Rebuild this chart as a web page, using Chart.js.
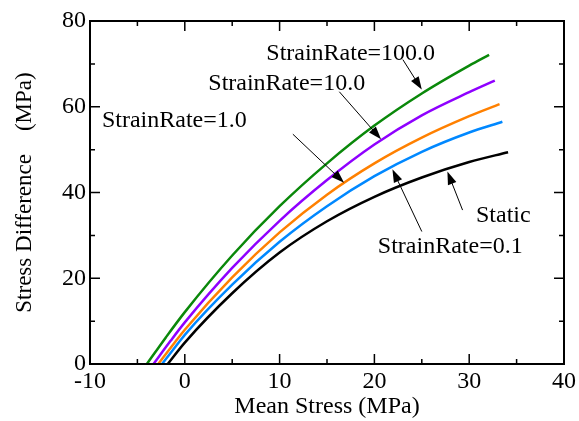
<!DOCTYPE html>
<html>
<head>
<meta charset="utf-8">
<script src="https://cdn.jsdelivr.net/npm/chart.js@4.4.1/dist/chart.umd.min.js"></script>
<style>
  html, body { margin: 0; padding: 0; background: #fff; }
  #wrap { width: 579px; height: 421px; }
</style>
</head>
<body>
<div id="wrap"><canvas id="chart"></canvas></div>
<script>
// curve values (mean stress, stress difference)
const rate100X = [-4.0, -2.0, 0, 5, 10, 15, 20, 25, 30, 32.1];
const rate100Y = [0, 6.2, 12.1, 25.3, 36.8, 46.8, 55.6, 63.1, 69.6, 72.1];

const rate10X = [-3.3, -1.5, 0, 5, 10, 15, 20, 25, 30, 32.7];
const rate10Y = [0, 5.4, 9.7, 22.4, 33.4, 42.9, 51.2, 58.0, 63.4, 66.1];

const rate1X = [-2.8, -1.0, 0, 5, 10, 15, 20, 25, 30, 33.2];
const rate1Y = [0, 5.2, 8.0, 20.2, 30.7, 39.5, 46.8, 52.8, 57.8, 60.6];

const rate01X = [-2.4, -0.5, 0, 5, 10, 15, 20, 25, 30, 33.5];
const rate01Y = [0, 5.4, 6.8, 18.5, 28.5, 36.8, 43.8, 49.5, 54.0, 56.5];

const staticX = [-1.8, 0, 5, 10, 15, 20, 25, 30, 34.1];
const staticY = [0, 5.0, 16.5, 26.0, 33.3, 39.0, 43.5, 47.1, 49.4];

const xTickValues = [-10, 0, 10, 20, 30, 40];
const xMinorValues = [-5, 5, 15, 25, 35];
const yTickValues = [0, 20, 40, 60, 80];
const yMinorValues = [10, 30, 50, 70];

// label text and where the arrows point (data units)
const notes = [
    { text: 'StrainRate=100.0', x: 17.5, y: 72.3, from: [23.0, 71.0], to: [25.0, 64.0] },
    { text: 'StrainRate=10.0', x: 10.75, y: 65.3, from: [16.3, 63.5], to: [20.7, 52.4] },
    { text: 'StrainRate=1.0', x: -1.1, y: 56.8, from: [11.4, 53.6], to: [16.8, 42.3] },
    { text: 'Static', x: 33.6, y: 34.6, from: [29.3, 35.9], to: [27.7, 44.9] },
    { text: 'StrainRate=0.1', x: 28.0, y: 27.4, from: [25.0, 30.9], to: [21.9, 45.4] }
];

const FONT = 'Liberation Serif';

function toPoints(xs, ys) {
    return xs.map((v, i) => ({ x: v, y: ys[i] }));
}

function curve(label, xs, ys, color) {
    return {
        label: label,
        data: toPoints(xs, ys),
        borderColor: color,
        borderWidth: 2.5,
        pointRadius: 0,
        fill: false,
        cubicInterpolationMode: 'monotone'
    };
}

function arrow(ctx, x1, y1, x2, y2) {
    const ang = Math.atan2(y2 - y1, x2 - x1);
    const len = 13, half = 4.5;
    ctx.beginPath();
    ctx.moveTo(x1, y1);
    ctx.lineTo(x2 - Math.cos(ang) * len * 0.8, y2 - Math.sin(ang) * len * 0.8);
    ctx.stroke();
    ctx.beginPath();
    ctx.moveTo(x2, y2);
    ctx.lineTo(x2 - Math.cos(ang) * len - Math.sin(ang) * half, y2 - Math.sin(ang) * len + Math.cos(ang) * half);
    ctx.lineTo(x2 - Math.cos(ang) * len + Math.sin(ang) * half, y2 - Math.sin(ang) * len - Math.cos(ang) * half);
    ctx.closePath();
    ctx.fill();
}

// frame, inward ticks on all four sides, and the labelled arrows
const framePlugin = {
    id: 'framePlugin',
    afterDatasetsDraw(chart) {
        const { ctx, chartArea: a, scales } = chart;
        const sx = scales.x, sy = scales.y;
        ctx.save();
        ctx.strokeStyle = '#000';
        ctx.fillStyle = '#000';

        ctx.lineWidth = 1.5;
        const tickX = (vals, len) => vals.forEach(v => {
            const px = sx.getPixelForValue(v);
            ctx.beginPath();
            ctx.moveTo(px, a.bottom); ctx.lineTo(px, a.bottom - len);
            ctx.moveTo(px, a.top); ctx.lineTo(px, a.top + len);
            ctx.stroke();
        });
        const tickY = (vals, len) => vals.forEach(v => {
            const py = sy.getPixelForValue(v);
            ctx.beginPath();
            ctx.moveTo(a.left, py); ctx.lineTo(a.left + len, py);
            ctx.moveTo(a.right, py); ctx.lineTo(a.right - len, py);
            ctx.stroke();
        });
        tickX(xTickValues, 10);
        tickX(xMinorValues, 5);
        tickY(yTickValues, 10);
        tickY(yMinorValues, 5);

        ctx.lineWidth = 2;
        ctx.strokeRect(a.left, a.top, a.right - a.left, a.bottom - a.top);

        ctx.lineWidth = 1;
        ctx.font = '24px "' + FONT + '"';
        ctx.textAlign = 'center';
        ctx.textBaseline = 'middle';
        notes.forEach(n => {
            ctx.fillText(n.text, sx.getPixelForValue(n.x), sy.getPixelForValue(n.y));
            arrow(ctx,
                sx.getPixelForValue(n.from[0]), sy.getPixelForValue(n.from[1]),
                sx.getPixelForValue(n.to[0]), sy.getPixelForValue(n.to[1]));
        });
        ctx.restore();
    }
};

new Chart(document.getElementById('chart'), {
    type: 'line',
    data: {
        datasets: [
            curve('Static', staticX, staticY, '#000000'),
            curve('StrainRate=0.1', rate01X, rate01Y, '#0088ff'),
            curve('StrainRate=1.0', rate1X, rate1Y, '#ff8000'),
            curve('StrainRate=10.0', rate10X, rate10Y, '#8f00ff'),
            curve('StrainRate=100.0', rate100X, rate100Y, '#0a880a')
        ]
    },
    options: {
        responsive: true,
        maintainAspectRatio: false,
        animation: false,
        layout: { padding: { left: 0, right: 11, top: 21, bottom: 0 } },
        plugins: {
            legend: { display: false },
            tooltip: { enabled: false }
        },
        scales: {
            x: {
                type: 'linear',
                min: -10,
                max: 40,
                afterFit: s => { s.height = 57; },
                grid: { display: false, drawTicks: false },
                border: { display: false },
                ticks: {
                    stepSize: 10,
                    padding: 3,
                    color: '#000',
                    font: { family: FONT, size: 24 }
                },
                title: {
                    display: true,
                    text: 'Mean Stress (MPa)',
                    color: '#000',
                    padding: { top: 0, bottom: 0 },
                    font: { family: FONT, size: 24 }
                }
            },
            y: {
                type: 'linear',
                min: 0,
                max: 80,
                afterFit: s => { s.width = 90; },
                grid: { display: false, drawTicks: false },
                border: { display: false },
                ticks: {
                    stepSize: 20,
                    padding: 4,
                    color: '#000',
                    font: { family: FONT, size: 24 }
                },
                title: {
                    display: true,
                    text: 'Stress Difference    (MPa)',
                    color: '#000',
                    padding: { top: 11, bottom: 0 },
                    font: { family: FONT, size: 23 }
                }
            }
        }
    },
    plugins: [framePlugin]
});
</script>
</body>
</html>
